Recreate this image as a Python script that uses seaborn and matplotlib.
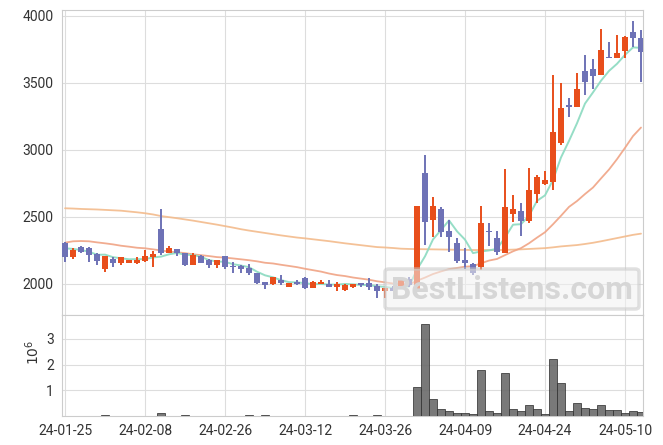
import numpy as np
import pandas as pd
import matplotlib
matplotlib.use("Agg")
import matplotlib.pyplot as plt
import seaborn as sns
from matplotlib.patches import FancyBboxPatch

# ---------------- data ----------------
opens = [2308, 2203, 2273, 2266, 2223, 2112, 2186, 2159, 2159, 2159,
         2174, 2199, 2410, 2233, 2258, 2229, 2142, 2211, 2179, 2142,
         2209, 2137, 2134, 2117, 2080, 2015, 1998, 2030, 1980, 2017,
         2042, 1968, 2000, 2000, 1975, 1958, 1980, 2005, 2005, 1988,
         1950, 1973, 1980, 2035, 1948, 2825, 2477, 2559, 2395, 2303,
         2179, 2149, 2129, 2397, 2340, 2233, 2524, 2544, 2472, 2668,
         2745, 2762, 3053, 3334, 3321, 3587, 3602, 3557, 3686, 3686,
         3733, 3875, 3830]
highs = [2310, 2270, 2280, 2276, 2229, 2209, 2203, 2199, 2181, 2203,
         2253, 2248, 2556, 2283, 2258, 2229, 2229, 2216, 2186, 2179,
         2209, 2166, 2142, 2149, 2080, 2015, 2054, 2067, 2005, 2030,
         2054, 2022, 2030, 2030, 2012, 2000, 1998, 2005, 2047, 1998,
         1973, 1985, 2042, 2054, 2581, 2961, 2650, 2576, 2477, 2345,
         2270, 2154, 2581, 2455, 2395, 2855, 2663, 2601, 2862, 2812,
         2842, 3557, 3495, 3388, 3570, 3706, 3676, 3900, 3800, 3855,
         3850, 3960, 3892]
lows = [2166, 2188, 2229, 2166, 2142, 2092, 2129, 2139, 2154, 2149,
        2166, 2129, 2216, 2229, 2211, 2137, 2142, 2154, 2117, 2117,
        2109, 2079, 2084, 2067, 2000, 1960, 1995, 1993, 1980, 1993,
        1960, 1968, 2000, 1975, 1948, 1950, 1968, 1975, 1955, 1893,
        1893, 1945, 1970, 1980, 1948, 2290, 2353, 2353, 2241, 2154,
        2112, 2067, 2104, 2285, 2216, 2229, 2464, 2358, 2452, 2601,
        2740, 2700, 3036, 3247, 3321, 3408, 3453, 3557, 3681, 3686,
        3686, 3768, 3502]
closes = [2203, 2253, 2241, 2216, 2174, 2209, 2159, 2199, 2179, 2179,
          2209, 2223, 2229, 2266, 2229, 2142, 2216, 2159, 2142, 2179,
          2129, 2129, 2109, 2080, 2010, 1995, 2054, 2005, 2005, 2000,
          1968, 2012, 2017, 1980, 2000, 1993, 1998, 1993, 1980, 1950,
          1973, 1950, 2042, 1993, 2581, 2464, 2581, 2390, 2353, 2174,
          2154, 2080, 2452, 2390, 2236, 2571, 2559, 2472, 2700, 2795,
          2775, 3135, 3309, 3316, 3453, 3507, 3552, 3743, 3681, 3718,
          3840, 3830, 3726]
# volume in millions
volume = [0, 0, 0, 0, 0, 0.04, 0, 0, 0, 0,
          0, 0, 0.11, 0, 0, 0.03, 0, 0, 0, 0,
          0, 0, 0, 0.03, 0, 0.03, 0, 0, 0, 0,
          0, 0, 0, 0, 0, 0, 0.03, 0, 0, 0.03,
          0, 0, 0, 0, 1.12, 3.57, 0.65, 0.27, 0.19, 0.10,
          0.10, 0.07, 1.78, 0.19, 0.12, 1.68, 0.27, 0.19, 0.42, 0.27,
          0.08, 2.21, 1.27, 0.19, 0.49, 0.31, 0.27, 0.42, 0.23, 0.23,
          0.12, 0.19, 0.16]
# moving-average values before enough visible closes exist
ma5_head = [2266, 2261, 2253, 2241]
ma20_head = [2308, 2318, 2320, 2318, 2310, 2303, 2295, 2285, 2278, 2270,
             2266, 2258, 2250, 2241, 2236, 2230, 2221, 2215, 2208]
# long moving average
ma_long = [2564, 2562, 2559, 2557, 2555, 2552, 2549, 2546, 2540, 2534,
           2527, 2518, 2506, 2498, 2490, 2481, 2472, 2462, 2452, 2442,
           2431, 2420, 2408, 2398, 2389, 2380, 2371, 2362, 2354, 2346,
           2340, 2333, 2326, 2319, 2311, 2303, 2296, 2289, 2282, 2275,
           2272, 2268, 2263, 2261, 2260, 2259, 2258, 2257, 2256, 2255,
           2254, 2253, 2253, 2253, 2253, 2254, 2256, 2258, 2261, 2264,
           2267, 2273, 2280, 2285, 2290, 2298, 2307, 2318, 2330, 2342,
           2354, 2366, 2375]
tick_labels = ["24-01-25", "24-02-08", "24-02-26", "24-03-12",
               "24-03-26", "24-04-09", "24-04-24", "24-05-10"]

# ---------------- build frame ----------------
n = len(closes)
df = pd.DataFrame({"x": np.arange(n), "open": opens, "high": highs,
                   "low": lows, "close": closes, "vol": volume,
                   "ma_long": ma_long})
ma5 = df["close"].rolling(5).mean().to_numpy()
ma5[:4] = ma5_head
ma20 = df["close"].rolling(20).mean().to_numpy()
ma20[:19] = ma20_head
df["ma5"] = ma5
df["ma20"] = ma20

RED = "#e84e1b"
BLUE = "#6e72b6"

sns.set_theme(style="whitegrid")
plt.rcParams["font.family"] = ["Roboto", "DejaVu Sans"]

W, H = 663, 445
fig = plt.figure(figsize=(W / 100, H / 100), dpi=100)
ax = fig.add_axes([62 / W, 1 - 315 / H, 581 / W, 305 / H])
axv = fig.add_axes([62 / W, 1 - 416 / H, 581 / W, 101 / H], sharex=ax)

up = df["close"] >= df["open"]
colors = np.where(up, RED, BLUE)

# moving averages (behind candles)
sns.lineplot(data=df, x="x", y="ma_long", ax=ax, color="#f3bb8c", lw=1.3,
             alpha=0.9, zorder=2)
sns.lineplot(data=df, x="x", y="ma20", ax=ax, color="#f0a384", lw=1.3,
             alpha=0.9, zorder=2)
sns.lineplot(data=df, x="x", y="ma5", ax=ax, color="#90dcc3", lw=1.4,
             alpha=0.95, zorder=2)

# candles
ax.vlines(df["x"], df["low"], df["high"], colors=colors, lw=1.4, zorder=3)
bottom = np.minimum(df["open"], df["close"])
height = np.maximum((df["close"] - df["open"]).abs(), 8)
ax.bar(df["x"], height, bottom=bottom, width=0.74, color=colors,
       linewidth=0, zorder=4)

# volume
axv.bar(df["x"], df["vol"], width=1.0, color="#6a6a6a", alpha=0.9,
        edgecolor="#333333", linewidth=0.6, zorder=3)

# axes styling
for a in (ax, axv):
    a.set_xlabel("")
    a.set_ylabel("")
    a.grid(True, color="#dddddd", lw=0.8)
    for s in a.spines.values():
        s.set_color("#cccccc")
        s.set_linewidth(0.8)
    a.tick_params(axis="both", colors="#333333", labelsize=10, length=3,
                  color="#cccccc", pad=3)

ax.set_xlim(-0.38, 72.25)
ax.set_ylim(1769, 4041)
ax.set_yticks([2000, 2500, 3000, 3500, 4000])
ax.set_xticks(range(0, n, 10))
ax.tick_params(axis="x", labelbottom=False)
axv.set_ylim(0, 3.93)
axv.set_yticks([1, 2, 3])
axv.set_yticklabels(["1", "2", "3"])
axv.set_xticks(range(0, n, 10))
axv.set_xticklabels(tick_labels)
for lab in ax.get_yticklabels() + axv.get_yticklabels() + axv.get_xticklabels():
    lab.set_color("#333333")

fig.text(33 / W, 1 - 352 / H, r"$10^6$", rotation=90, ha="center",
         va="center", fontsize=10, color="#333333")

# watermark
box = FancyBboxPatch((385 / W, 1 - 309 / H), 254 / W, 40 / H,
                     boxstyle="round,pad=0,rounding_size=0.006",
                     transform=fig.transFigure, fc="#f2f2f2", ec="#c8c8c8",
                     lw=2.5, alpha=0.55, zorder=5)
fig.patches.append(box)
fig.text(512 / W, 1 - 290 / H, "BestListens.com", ha="center", va="center",
         fontsize=23, fontweight="bold", color="#d6d6d6", zorder=6)

fig.savefig("out.png", dpi=100)
